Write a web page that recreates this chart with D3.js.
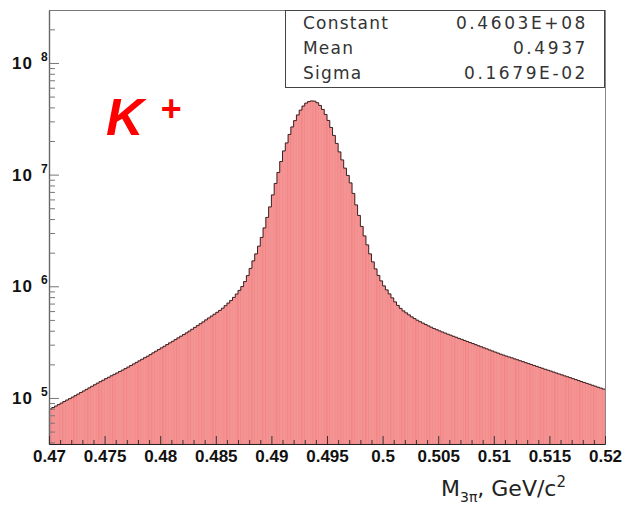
<!DOCTYPE html>
<html><head><meta charset="utf-8">
<script src="https://cdn.jsdelivr.net/npm/d3@7"></script>
<style>body{margin:0;background:#fff}</style>
</head><body>
<svg id="c" width="625" height="508"></svg>
<script>
const xRange = [0.47, 0.52];
const counts = [
7.96e4,8.21e4,8.46e4,8.73e4,9.00e4,9.29e4,9.58e4,9.86e4,1.017e5,1.049e5,
1.084e5,1.120e5,1.155e5,1.194e5,1.231e5,1.273e5,1.313e5,1.357e5,1.399e5,1.443e5,
1.489e5,1.532e5,1.580e5,1.627e5,1.674e5,1.727e5,1.777e5,1.833e5,1.891e5,1.954e5,
2.016e5,2.083e5,2.149e5,2.221e5,2.295e5,2.367e5,2.446e5,2.534e5,2.624e5,2.712e5,
2.809e5,2.903e5,3.007e5,3.114e5,3.218e5,3.333e5,3.452e5,3.575e5,3.695e5,3.827e5,
3.971e5,4.122e5,4.286e5,4.448e5,4.626e5,4.801e5,5.003e5,5.203e5,5.411e5,5.627e5,
5.851e5,6.085e5,6.367e5,6.704e5,7.073e5,7.463e5,7.955e5,8.515e5,9.190e5,9.94e5,
1.102e6,1.247e6,1.446e6,1.688e6,1.950e6,2.286e6,2.740e6,3.333e6,4.139e6,5.139e6,
6.581e6,8.340e6,1.046e7,1.310e7,1.630e7,1.922e7,2.290e7,2.673e7,3.043e7,3.423e7,
3.780e7,4.113e7,4.367e7,4.504e7,4.569e7,4.550e7,4.403e7,4.165e7,3.835e7,3.458e7,
3.056e7,2.645e7,2.244e7,1.903e7,1.597e7,1.354e7,1.143e7,9.836e6,8.429e6,6.787e6,
5.355e6,4.313e6,3.438e6,2.826e6,2.348e6,1.950e6,1.654e6,1.431e6,1.252e6,1.118e6,
1.008e6,9.285e5,8.551e5,7.874e5,7.250e5,6.746e5,6.341e5,6.022e5,5.779e5,5.546e5,
5.322e5,5.139e5,4.972e5,4.821e5,4.683e5,4.550e5,4.421e5,4.304e5,4.190e5,4.088e5,
3.988e5,3.898e5,3.811e5,3.725e5,3.649e5,3.568e5,3.495e5,3.416e5,3.347e5,3.272e5,
3.205e5,3.133e5,3.069e5,3.000e5,2.933e5,2.873e5,2.809e5,2.751e5,2.690e5,2.635e5,
2.576e5,2.523e5,2.467e5,2.421e5,2.372e5,2.329e5,2.286e5,2.239e5,2.198e5,2.153e5,
2.114e5,2.070e5,2.032e5,1.995e5,1.954e5,1.918e5,1.879e5,1.845e5,1.807e5,1.774e5,
1.741e5,1.706e5,1.674e5,1.640e5,1.610e5,1.577e5,1.548e5,1.520e5,1.489e5,1.461e5,
1.431e5,1.405e5,1.376e5,1.351e5,1.326e5,1.299e5,1.275e5,1.249e5,1.226e5,1.201e5];
const xTicks = [0.47,0.475,0.48,0.485,0.49,0.495,0.5,0.505,0.51,0.515,0.52];
const xTickLabels = ["0.47","0.475","0.48","0.485","0.49","0.495","0.5","0.505","0.51","0.515","0.52"];
const yDomain = [3.87e4, 2.98e8];
const yMajorTicks = [1e5,1e6,1e7,1e8];
const yExponents = ["5","6","7","8"];
const statNames = ["Constant","Mean","Sigma"];
const statValues = ["0.4603E+08","0.4937","0.1679E-02"];
const particleLabel = "K";
const particleCharge = "+";

const svg = d3.select("#c");
const L = 49, R = 605, T = 10, B = 444;
const x = d3.scaleLinear().domain(xRange).range([L, R]);
const y = d3.scaleLog().domain(yDomain).range([B, T]);

const n = counts.length;
const bw = (xRange[1]-xRange[0])/n;
const bins = counts.map((v,i)=>({x0: xRange[0]+i*bw, x1: xRange[0]+(i+1)*bw, v}));

// bars
svg.append("g").selectAll("rect").data(bins).join("rect")
  .attr("x", d=>x(d.x0)).attr("width", d=>x(d.x1)-x(d.x0))
  .attr("y", d=>y(d.v)).attr("height", d=>B-y(d.v))
  .attr("fill","#f69292").attr("stroke","#dc5858").attr("stroke-width",0.45).attr("stroke-opacity",0.45);

// outline
const pts = bins.map(d=>[d.x0,d.v]); pts.push([xRange[1], counts[n-1]]);
svg.append("path").datum(pts)
  .attr("d", d3.line().x(d=>x(d[0])).y(d=>y(d[1])).curve(d3.curveStepAfter))
  .attr("fill","none").attr("stroke","#3a2222").attr("stroke-width",1);

// frame
svg.append("line").attr("x1",L).attr("x2",R).attr("y1",T+0.5).attr("y2",T+0.5).attr("stroke","#777");
svg.append("line").attr("x1",R+0.5).attr("x2",R+0.5).attr("y1",T).attr("y2",B).attr("stroke","#888");

// y axis
const yMinor = [];
for (let k=4;k<=8;k++) for (let m=2;m<=9;m++){ const v=m*Math.pow(10,k); if (v>=yDomain[0] && v<=yDomain[1]) yMinor.push(v); }
const gy = svg.append("g").attr("transform",`translate(${L},0)`);
gy.call(d3.axisLeft(y).tickValues(yMajorTicks).tickSize(-10).tickSizeOuter(0).tickFormat(()=>""));
gy.append("g").call(d3.axisLeft(y).tickValues(yMinor).tickSize(-6).tickSizeOuter(0).tickFormat(()=>""));
gy.selectAll("path.domain").attr("stroke","#666").attr("stroke-width",1.2);
gy.selectAll(".tick line").attr("stroke","#777");
yMajorTicks.forEach((v,i)=>{
  svg.append("text").attr("x",12).attr("y",y(v)+6).text("10")
    .attr("font-family","Liberation Sans, Arial, sans-serif").attr("font-weight","bold")
    .attr("font-size",17).attr("letter-spacing",1).attr("fill","#111");
  svg.append("text").attr("x",41).attr("y",y(v)-2).text(yExponents[i])
    .attr("font-family","Liberation Sans, Arial, sans-serif").attr("font-weight","bold")
    .attr("font-size",12).attr("fill","#111");
});

// x axis
const xMinor = d3.range(0.47, 0.5201, 0.001).filter(t=>xTicks.every(m=>Math.abs(m-t)>1e-6));
const gx = svg.append("g").attr("transform",`translate(0,${B})`);
gx.call(d3.axisBottom(x).tickValues(xTicks).tickSize(-8).tickSizeOuter(0).tickPadding(6)
  .tickFormat((d,i)=>xTickLabels[i]));
gx.append("g").call(d3.axisBottom(x).tickValues(xMinor).tickSize(-4).tickSizeOuter(0).tickFormat(()=>""));
gx.selectAll("path.domain").attr("stroke","#222").attr("stroke-width",1.2);
gx.selectAll(".tick line").attr("stroke","#333");
gx.selectAll(".tick text").attr("font-family","Liberation Sans, Arial, sans-serif")
  .attr("font-weight","bold").attr("font-size",17).attr("fill","#111");

// stats box
svg.append("rect").attr("x",285.5).attr("y",10.5).attr("width",319).attr("height",77)
  .attr("fill","#fff").attr("stroke","#444").attr("stroke-width",1);
statNames.forEach((s,i)=>{
  svg.append("text").attr("x",303).attr("y",29+i*25).text(s)
    .attr("font-family","DejaVu Sans, sans-serif").attr("font-size",17).attr("letter-spacing",1.2).attr("fill","#333");
  svg.append("text").attr("x",588).attr("y",29+i*25).attr("text-anchor","end").text(statValues[i])
    .attr("font-family","DejaVu Sans, sans-serif").attr("font-size",17).attr("letter-spacing",2.6).attr("fill","#333");
});

// K+ label
svg.append("text").attr("x",106).attr("y",135).text(particleLabel)
  .attr("font-family","Liberation Sans, Arial, sans-serif").attr("font-weight","bold").attr("font-style","italic")
  .attr("font-size",52).attr("fill","#ff0000");
svg.append("text").attr("x",160).attr("y",121).text(particleCharge)
  .attr("font-family","Liberation Sans, Arial, sans-serif").attr("font-weight","bold").attr("font-style","italic")
  .attr("font-size",36).attr("fill","#ff0000");

// x title
const xt = svg.append("text").attr("x",441).attr("y",496)
  .attr("font-family","DejaVu Sans, Verdana, sans-serif").attr("font-size",22).attr("fill","#222");
xt.append("tspan").text("M");
xt.append("tspan").attr("dy",6).attr("font-size",14).text("3π");
xt.append("tspan").attr("dy",-6).text(", GeV/c");
xt.append("tspan").attr("dy",-9).attr("font-size",15).text("2");
</script>
</body></html>
